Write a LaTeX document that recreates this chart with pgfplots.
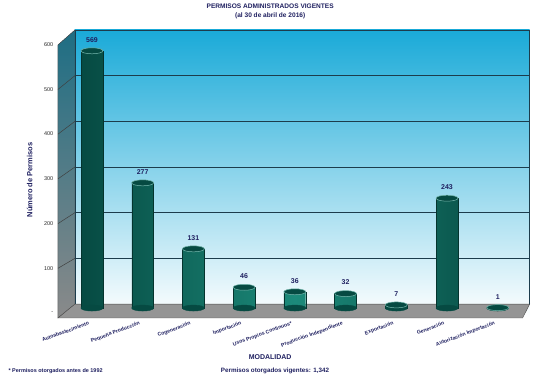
\documentclass[border=0pt]{standalone}
\usepackage{pgfplots}
\pgfplotsset{compat=1.18}
\usepackage{fontspec}
\setmainfont{Liberation Sans}
\definecolor{navy}{HTML}{1F2060}
\definecolor{cyanbg}{HTML}{1AAAD8}
\definecolor{tealdark}{HTML}{064A42}
\definecolor{tealmid}{HTML}{1C8A7A}
\definecolor{walltop}{HTML}{1E6E84}
\definecolor{wallbot}{HTML}{8A8A8A}
\definecolor{floorc}{HTML}{959595}
\definecolor{gridc}{HTML}{1C3C4C}
\pgfdeclareplotmark{cyltop}{\pgfpathellipse{\pgfpointorigin}{\pgfpoint{11bp}{0pt}}{\pgfpoint{0pt}{3bp}}\pgfusepathqfillstroke}
\begin{document}
\begin{tikzpicture}
\path[use as bounding box] (0,0) rectangle (540bp,380bp);
\begin{axis}[
  at={(74.7bp,62bp)}, anchor=south west,
  scale only axis, width=455bp, height=288bp,
  xmin=-0.34, xmax=8.63, ymin=-22, ymax=615,
  clip=false,
  axis line style={draw=none},
  axis background/.style={top color=cyanbg, bottom color=white},
  xtick={0,...,8},
  xticklabels={Autoabastecimiento,Pequeña Producción,Cogeneración,Importación,Usos Propios Continuos*,Producción Independiente,Exportación,Generación,Autorización Importación},
  xticklabel style={rotate=20, anchor=north east, font=\fontsize{5.2}{6}\selectfont\bfseries, xshift=-4bp, yshift=-1bp, inner sep=0.5pt, text=navy},
  ytick={-11,88,187,286,385,484,582},
  yticklabels={-,100,200,300,400,500,600},
  yticklabel style={xshift=-18bp, font=\fontsize{5.5}{6}\selectfont, text=black!85},
  major tick length=0pt,
  title={PERMISOS ADMINISTRADOS VIGENTES\\(al 30 de abril de 2016)},
  title style={align=center, text=navy, font=\fontsize{6.6}{8.5}\selectfont\bfseries, at={(rel axis cs:0.5,1)}, anchor=south, xshift=-32bp, yshift=2bp},
  xlabel={MODALIDAD},
  every axis x label/.style={at={(rel axis cs:0.5,0)}, anchor=center, xshift=-32bp, yshift=-39bp, font=\fontsize{7}{8}\selectfont\bfseries, text=navy},
  ylabel={Número de Permisos},
  every axis y label/.style={at={(rel axis cs:0,0.5)}, xshift=-45bp, yshift=-6bp, rotate=90, anchor=center, font=\fontsize{7.5}{8}\selectfont\bfseries, text=navy},
]
% left wall
\fill[top color=walltop, bottom color=wallbot, draw=black!70] (axis cs:-0.67,-22) -- (axis cs:-0.67,582) -- (axis cs:-0.335,615) -- (axis cs:-0.335,8.8) -- cycle;
\pgfplotsinvokeforeach{100,200,300,400,500}{
  \draw[black!75, line width=0.5pt] (axis cs:-0.67,{#1*0.989-11}) -- (axis cs:-0.335,{#1*1.01+9});
  \draw[gridc, line width=0.9pt] (axis cs:-0.335,{#1*1.01+9}) -- (axis cs:8.63,{#1*1.01+9});
}
\draw[gridc, line width=0.9pt] (axis cs:-0.335,8.8) rectangle (axis cs:8.63,615);
% floor
\fill[floorc, draw=black!70] (axis cs:-0.67,-22) -- (axis cs:8.49,-22) -- (axis cs:8.63,8.8) -- (axis cs:-0.335,8.8) -- cycle;
% bar bottoms
\addplot[only marks, mark=cyltop, mark options={fill=tealdark, draw=tealdark}] coordinates {(0,0) (1,0) (2,0) (3,0) (4,0) (5,0) (6,0) (7,0) (8,0)};
% bars
\addplot[ybar, bar width=0.43, bar shift=0pt, draw=tealdark!70!black, line width=0.4pt, left color=tealdark, right color=tealdark, middle color=tealmid] coordinates {(0,569) (1,277) (2,131) (3,46) (4,36) (5,32) (6,7) (7,243) (8,1)};
% bar tops + labels
\addplot[only marks, mark=cyltop, mark options={fill=tealdark, draw=tealmid!60!white, line width=0.5pt},
  nodes near coords, point meta=explicit symbolic,
  every node near coord/.style={font=\fontsize{7}{8}\selectfont\bfseries, text=navy, yshift=5bp}]
  coordinates {(0,569) [569] (1,277) [277] (2,131) [131] (3,46) [46] (4,36) [36] (5,32) [32] (6,7) [7] (7,243) [243] (8,1) [1]};
\end{axis}
\node[anchor=west, text=navy, font=\fontsize{5.5}{6}\selectfont\bfseries] at (5bp,9bp) {* Permisos otorgados antes de 1992};
\node[anchor=center, text=navy, font=\fontsize{6.3}{7}\selectfont\bfseries] at (275bp,9bp) {Permisos otorgados vigentes: 1,342};
\end{tikzpicture}
\end{document}
